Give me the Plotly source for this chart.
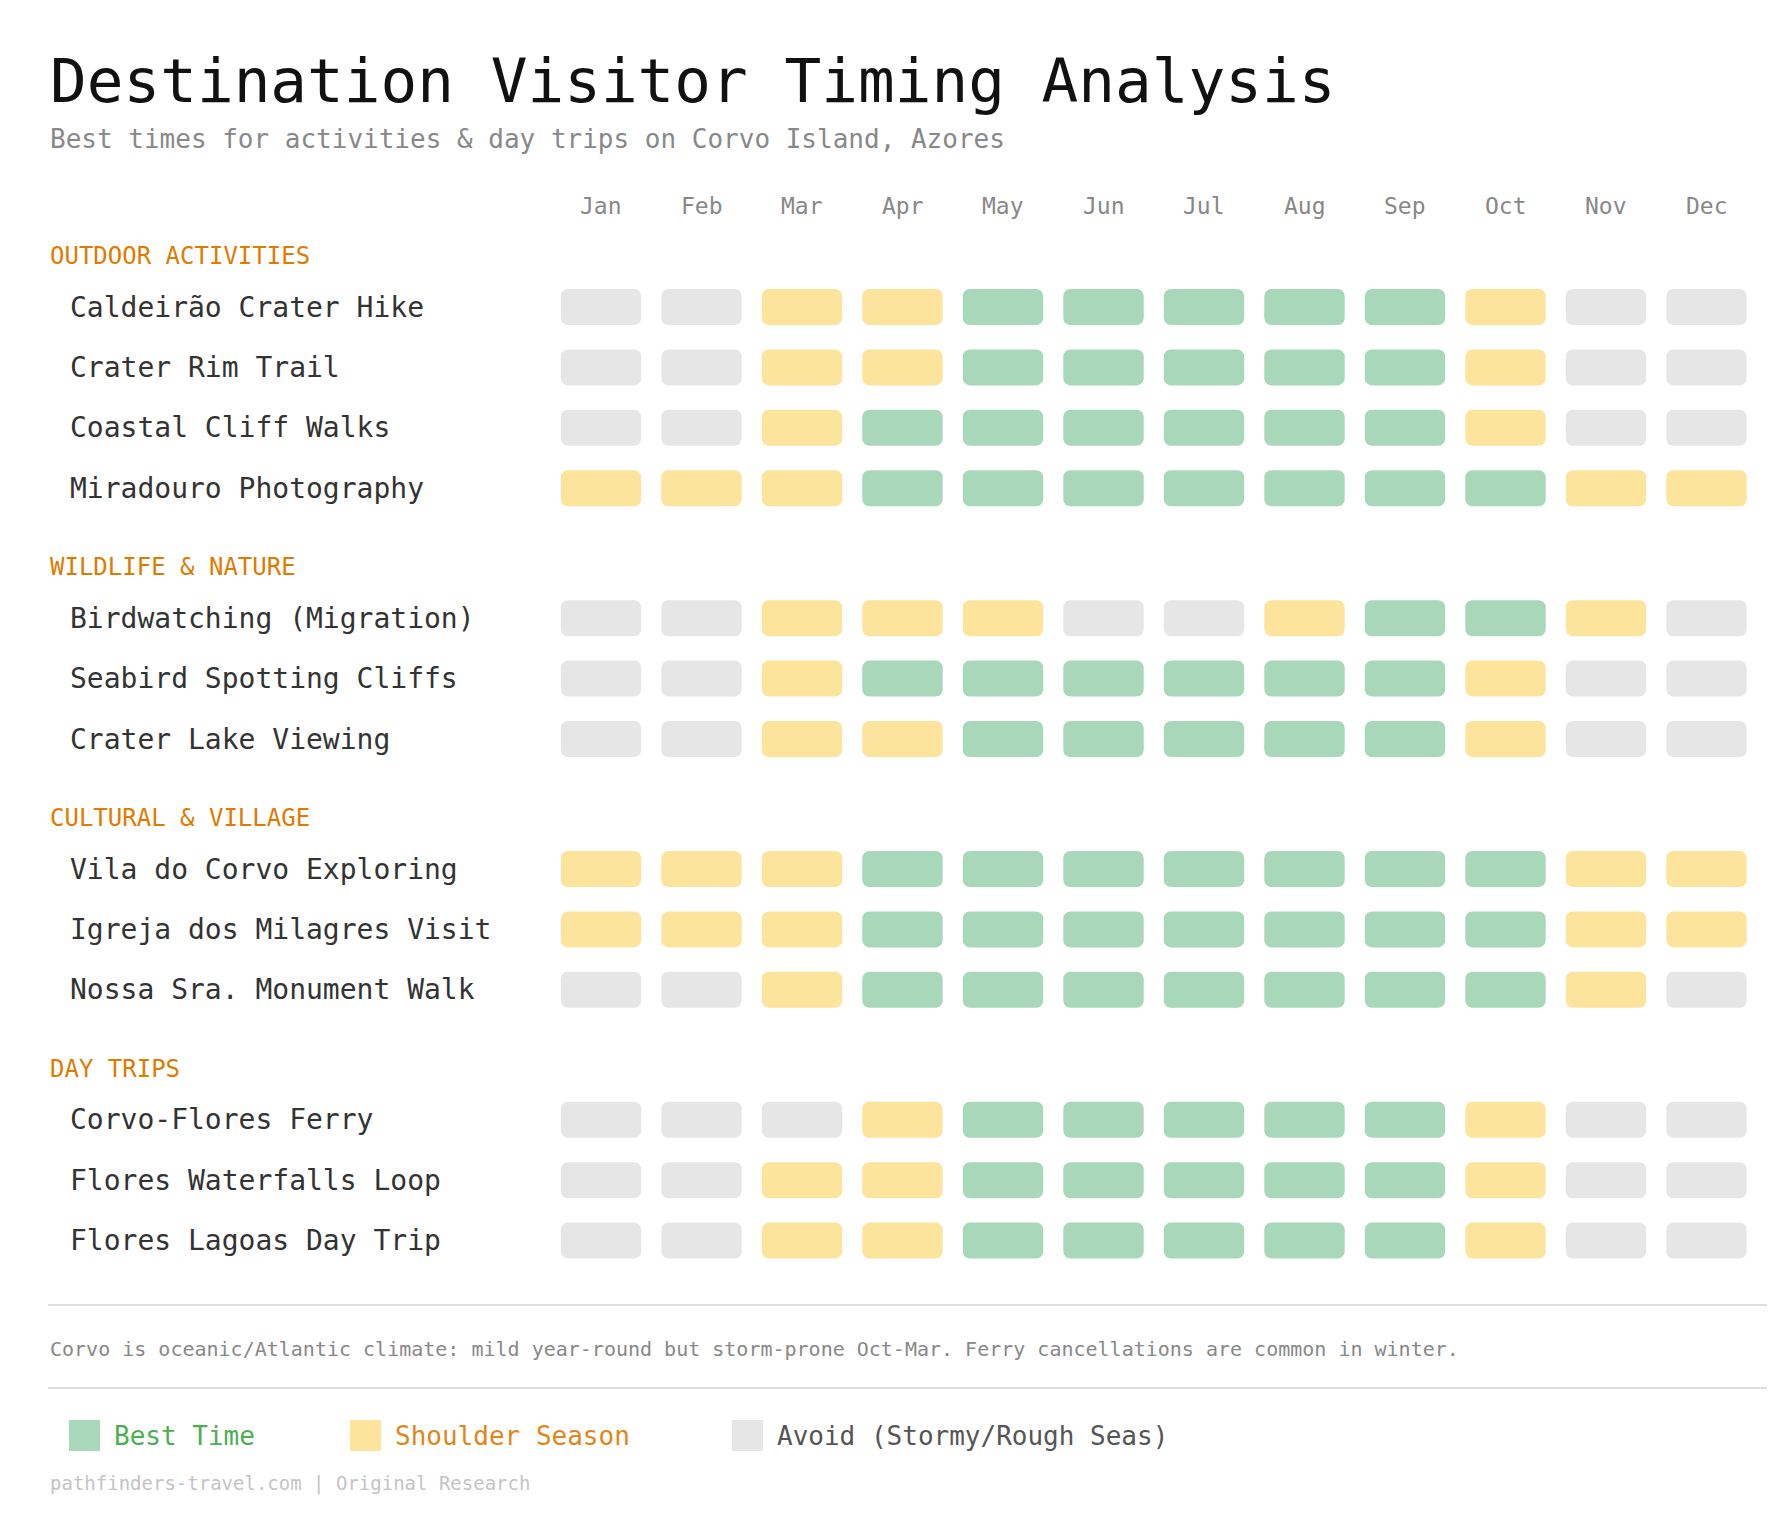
import plotly.graph_objects as go

W, H = 1790, 1514
FONT = "DejaVu Sans Mono"

months = ["Jan","Feb","Mar","Apr","May","Jun","Jul","Aug","Sep","Oct","Nov","Dec"]
sections = ["OUTDOOR ACTIVITIES", "WILDLIFE & NATURE", "CULTURAL & VILLAGE", "DAY TRIPS"]
activities = [
    ["Caldeirão Crater Hike", "Crater Rim Trail", "Coastal Cliff Walks", "Miradouro Photography"],
    ["Birdwatching (Migration)", "Seabird Spotting Cliffs", "Crater Lake Viewing"],
    ["Vila do Corvo Exploring", "Igreja dos Milagres Visit", "Nossa Sra. Monument Walk"],
    ["Corvo-Flores Ferry", "Flores Waterfalls Loop", "Flores Lagoas Day Trip"],
]
# 2 = Best Time, 1 = Shoulder Season, 0 = Avoid
status = [
    [[0,0,1,1,2,2,2,2,2,1,0,0],
     [0,0,1,1,2,2,2,2,2,1,0,0],
     [0,0,1,2,2,2,2,2,2,1,0,0],
     [1,1,1,2,2,2,2,2,2,2,1,1]],
    [[0,0,1,1,1,0,0,1,2,2,1,0],
     [0,0,1,2,2,2,2,2,2,1,0,0],
     [0,0,1,1,2,2,2,2,2,1,0,0]],
    [[1,1,1,2,2,2,2,2,2,2,1,1],
     [1,1,1,2,2,2,2,2,2,2,1,1],
     [0,0,1,2,2,2,2,2,2,2,1,0]],
    [[0,0,0,1,2,2,2,2,2,1,0,0],
     [0,0,1,1,2,2,2,2,2,1,0,0],
     [0,0,1,1,2,2,2,2,2,1,0,0]],
]
legend_labels = ["Best Time", "Shoulder Season", "Avoid (Stormy/Rough Seas)"]

colors = {2: "#a8d8b9", 1: "#fce49c", 0: "#e6e6e6"}
legend_text_colors = ["#4caf50", "#e0861a", "#555555"]

# layout positions (pixels from top)
HEADER_Y0 = 248
HEADER_TO_ROW = 51
ROW_STEP = 60.4
ROW_TO_HEADER = 79
CELL_H = 36

fig = go.Figure()
annotations = []
cells = {0: ([], []), 1: ([], []), 2: ([], [])}

y = HEADER_Y0
for s, sec in enumerate(sections):
    annotations.append(dict(text=sec, x=40 / W, xref="paper", y=y, yref="y",
                            xanchor="left", yanchor="middle", showarrow=False,
                            font=dict(family=FONT, size=24, color="#e07b00")))
    y += HEADER_TO_ROW
    for a, name in enumerate(activities[s]):
        if a > 0:
            y += ROW_STEP
        annotations.append(dict(text=name, x=60 / W, xref="paper", y=y, yref="y",
                                xanchor="left", yanchor="middle", showarrow=False,
                                font=dict(family=FONT, size=28, color="#333333")))
        for m, v in enumerate(status[s][a]):
            cells[v][0].append(months[m])
            cells[v][1].append(y - CELL_H / 2)
    y += ROW_TO_HEADER

for v in (2, 1, 0):
    xs, bases = cells[v]
    fig.add_trace(go.Bar(x=xs, y=[CELL_H] * len(xs), base=bases,
                         marker=dict(color=colors[v], cornerradius=7, line=dict(width=0)),
                         hoverinfo="skip", showlegend=False))

for m in months:
    annotations.append(dict(text=m, x=m, xref="x", y=198, yref="y", showarrow=False,
                            xanchor="center", yanchor="middle",
                            font=dict(family=FONT, size=23, color="#888888")))

def py(p):
    return 1 - p / H

annotations += [
    dict(text="Destination Visitor Timing Analysis", x=40 / W, y=py(72), xref="paper", yref="paper",
         xanchor="left", yanchor="middle", showarrow=False,
         font=dict(family=FONT, size=61, color="#111111")),
    dict(text="Best times for activities & day trips on Corvo Island, Azores", x=40 / W, y=py(131),
         xref="paper", yref="paper", xanchor="left", yanchor="middle", showarrow=False,
         font=dict(family=FONT, size=26, color="#888888")),
    dict(text="Corvo is oceanic/Atlantic climate: mild year-round but storm-prone Oct-Mar. Ferry cancellations are common in winter.",
         x=40 / W, y=py(1341), xref="paper", yref="paper", xanchor="left", yanchor="middle",
         showarrow=False, font=dict(family=FONT, size=20, color="#888888")),
    dict(text="pathfinders-travel.com | Original Research", x=40 / W, y=py(1475),
         xref="paper", yref="paper", xanchor="left", yanchor="middle", showarrow=False,
         font=dict(family=FONT, size=19, color="#c4c4c4")),
]

shapes = [
    dict(type="line", xref="paper", yref="paper", x0=40 / W, x1=1759 / W, y0=py(1297), y1=py(1297),
         line=dict(color="#e0e0e0", width=2)),
    dict(type="line", xref="paper", yref="paper", x0=40 / W, x1=1759 / W, y0=py(1380), y1=py(1380),
         line=dict(color="#e0e0e0", width=2)),
]
leg_sq_x = [61, 342, 724]
leg_col = [colors[2], colors[1], colors[0]]
for i, lab in enumerate(legend_labels):
    x0 = leg_sq_x[i]
    shapes.append(dict(type="rect", xref="paper", yref="paper", x0=x0 / W, x1=(x0 + 31) / W,
                       y0=py(1412), y1=py(1443), fillcolor=leg_col[i], line=dict(width=0)))
    annotations.append(dict(text=lab, x=(x0 + 43) / W, y=py(1428), xref="paper", yref="paper",
                            xanchor="left", yanchor="middle", showarrow=False,
                            font=dict(family=FONT, size=26, color=legend_text_colors[i])))

fig.update_layout(
    width=W, height=H, margin=dict(l=0, r=0, t=0, b=0),
    paper_bgcolor="white", plot_bgcolor="white",
    barmode="overlay", bargap=0.2,
    xaxis=dict(type="category", categoryorder="array", categoryarray=months,
               domain=[542.75 / W, 1748.75 / W], range=[-0.5, 11.5],
               showticklabels=False, showgrid=False, zeroline=False, fixedrange=True),
    yaxis=dict(range=[H, 0], domain=[0, 1], showticklabels=False, showgrid=False,
               zeroline=False, fixedrange=True),
    annotations=annotations, shapes=shapes,
)
fig.write_html("out.html")
